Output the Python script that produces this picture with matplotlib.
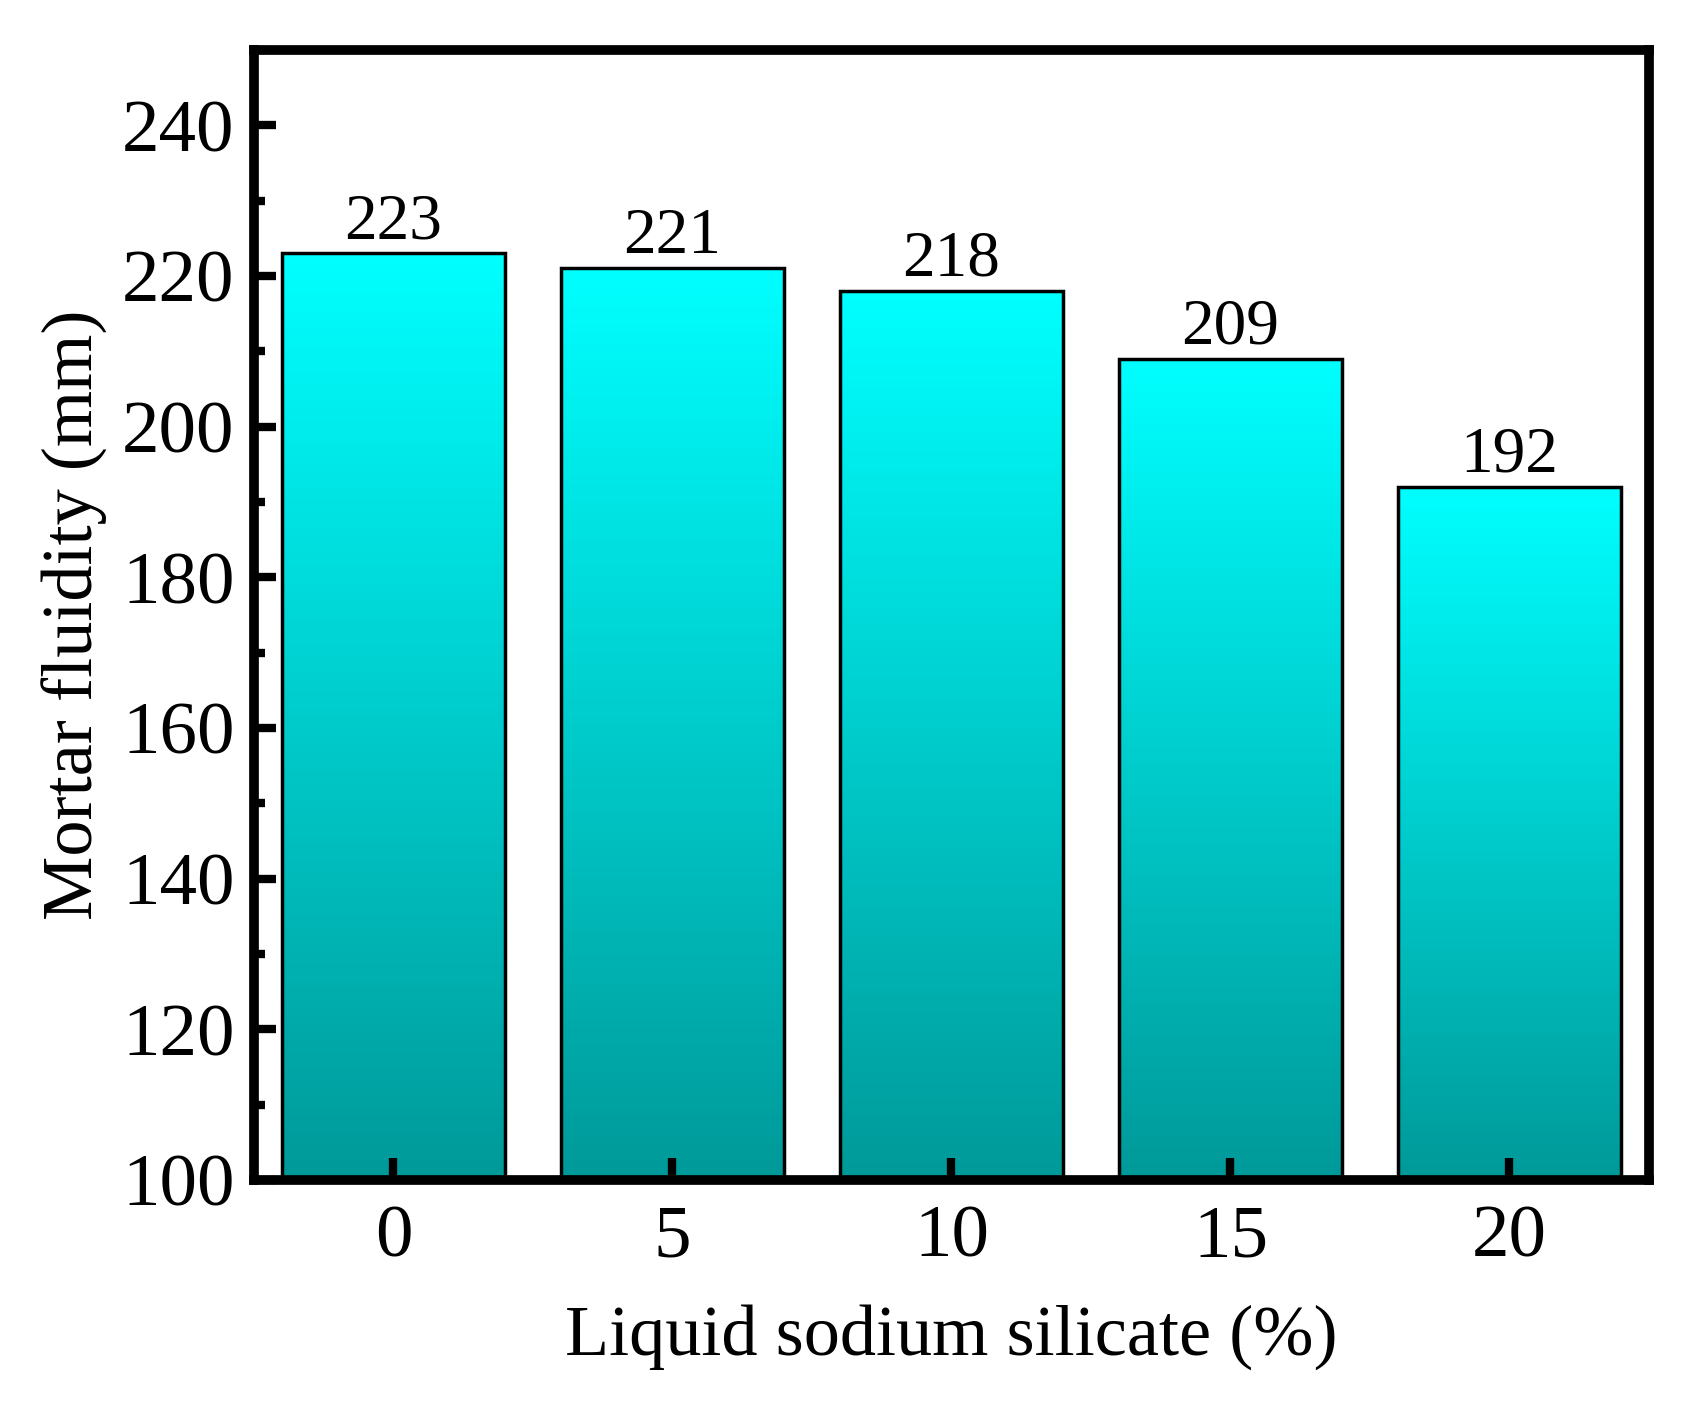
import numpy as np
import matplotlib.pyplot as plt
from matplotlib.colors import LinearSegmentedColormap
from matplotlib.ticker import MultipleLocator

# data
dosage = ['0', '5', '10', '15', '20']
fluidity = [223, 221, 218, 209, 192]

plt.rcParams['font.family'] = ['Liberation Serif', 'DejaVu Serif']

fig = plt.figure(figsize=(17.01, 14.2), dpi=100)
ax = fig.add_axes([0.1493, 0.169, 0.8201, 0.7958])
ax.set_axisbelow(False)

ymin, ymax = 100, 250
bar_w = 0.8
x = np.arange(len(dosage))

# cyan -> dark cyan gradient, bottom to top of each bar
cmap = LinearSegmentedColormap.from_list('cyan_grad', ['#009999', '#00ffff'])
grad = np.linspace(0, 1, 256).reshape(-1, 1)

ax.bar(x, np.array(fluidity) - ymin, bottom=ymin, width=bar_w,
       facecolor='none', edgecolor='black', linewidth=2.5, zorder=1.2)
for xi, val in zip(x, fluidity):
    ax.imshow(grad, cmap=cmap, origin='lower', aspect='auto',
              extent=(xi - bar_w / 2, xi + bar_w / 2, ymin, val), zorder=1)
    ax.annotate(str(val), (xi, val), xytext=(0, 1), textcoords='offset points',
                ha='center', va='bottom', fontsize=47)

ax.set_xlim(-0.5, len(dosage) - 0.5)
ax.set_ylim(ymin, ymax)
ax.set_xticks(x)
ax.set_xticklabels(dosage)
ax.yaxis.set_major_locator(MultipleLocator(20))
ax.yaxis.set_minor_locator(MultipleLocator(10))

for s in ax.spines.values():
    s.set_linewidth(7)
ax.tick_params(axis='both', which='major', direction='in', length=16,
               width=6, labelsize=54, pad=14)
ax.tick_params(axis='y', which='minor', direction='in', length=8, width=6)
ax.tick_params(axis='x', which='minor', bottom=False)
ax.tick_params(axis='x', pad=18)

ax.set_xlabel('Liquid sodium silicate (%)', fontsize=52, labelpad=23)
ax.set_ylabel('Mortar fluidity (mm)', fontsize=52, labelpad=10)

fig.savefig('out.png', dpi=100)
